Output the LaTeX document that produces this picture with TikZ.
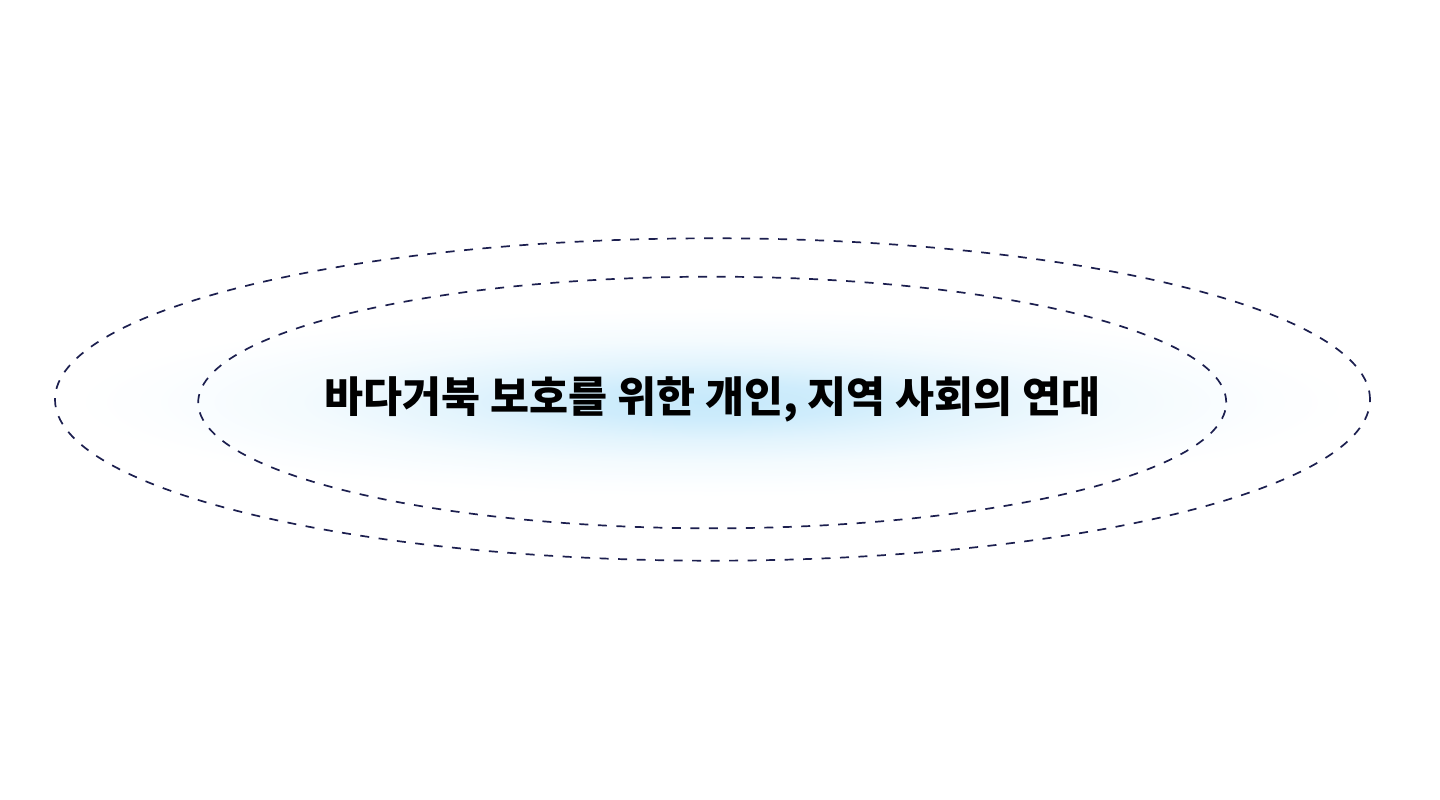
\documentclass[tikz,border=0pt]{standalone}
\usepackage{fontspec}
\newfontfamily\krfont{Noto Sans CJK KR}
\definecolor{navy}{HTML}{1C1F4F}
\definecolor{glowc}{HTML}{C6E9FB}
\pgfdeclareradialshading{glowshade}{\pgfpoint{0bp}{0bp}}{%
  color(0bp)=(glowc); color(5bp)=(glowc!85!white); color(10bp)=(glowc!50!white);
  color(16bp)=(glowc!20!white); color(22bp)=(glowc!5!white); color(25bp)=(white); color(50bp)=(white)}
\tikzset{
  ring/.style={draw=navy, line width=1.7pt, dash pattern=on 9pt off 9.5pt},
  title/.style={font=\krfont\bfseries\fontsize{42.4pt}{50pt}\selectfont, text=black, inner sep=0pt}
}
\begin{document}
\begin{tikzpicture}[x=1pt,y=1pt]
\useasboundingbox (0,0) rectangle (1440,800);
\fill[white] (0,0) rectangle (1440,800);
\shade[shading=glowshade, draw=none] (72,303) rectangle (1352,493);
\draw[ring] (712.5,400.5) ellipse [x radius=657.5, y radius=161.2];
\draw[ring] (712.2,397.5) ellipse [x radius=514, y radius=125.8];
\node[title] (t) at (712.5,401) {바다거북 보호를 위한 개인, 지역 사회의 연대};
\end{tikzpicture}
\end{document}
